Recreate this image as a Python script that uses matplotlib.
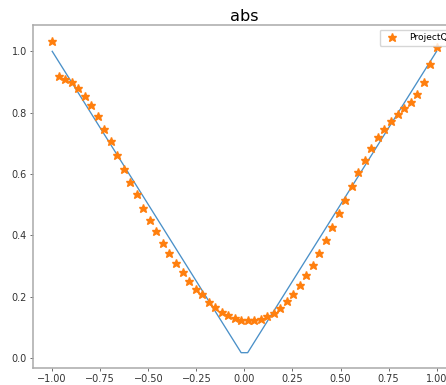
import numpy as np
import matplotlib.pyplot as plt

# sample points shared by the line and the stars
x = np.linspace(-1, 1, 60)
y_true = np.abs(x)

# star values
y_pred = [1.035, 0.920, 0.910, 0.899, 0.881, 0.855, 0.824, 0.789, 0.747, 0.706,
          0.663, 0.617, 0.574, 0.533, 0.490, 0.451, 0.413, 0.375, 0.342, 0.309,
          0.281, 0.252, 0.226, 0.207, 0.183, 0.167, 0.150, 0.139, 0.131, 0.124,
          0.122, 0.124, 0.128, 0.137, 0.148, 0.164, 0.185, 0.210, 0.237, 0.270,
          0.304, 0.343, 0.385, 0.427, 0.471, 0.516, 0.562, 0.606, 0.647, 0.686,
          0.720, 0.747, 0.774, 0.796, 0.816, 0.835, 0.862, 0.899, 0.960, 1.014]

fig = plt.figure(figsize=(4.46, 3.85), dpi=100)
ax = fig.add_axes([0.074, 0.0434, 0.948, 0.8917])

ax.plot(x, y_true, lw=0.95, color='#4a90c8')
ax.plot(x, y_pred, '*', color='#ff7f0e', markersize=6.3, label='ProjectQ')

ax.set_xticks([-1.0, -0.75, -0.5, -0.25, 0.0, 0.25, 0.5, 0.75, 1.0])
ax.set_yticks([0.0, 0.2, 0.4, 0.6, 0.8, 1.0])
ax.tick_params(labelsize=7, length=2.2, width=0.5, pad=2.2, colors='#333333')
for s in ax.spines.values():
    s.set_color('#aaaaaa')
    s.set_linewidth(1.1)

ax.set_title('abs', fontsize=11.6, pad=3)
ax.legend(loc='upper right', fontsize=6.6)

plt.savefig('out.png', dpi=100)
plt.close()
